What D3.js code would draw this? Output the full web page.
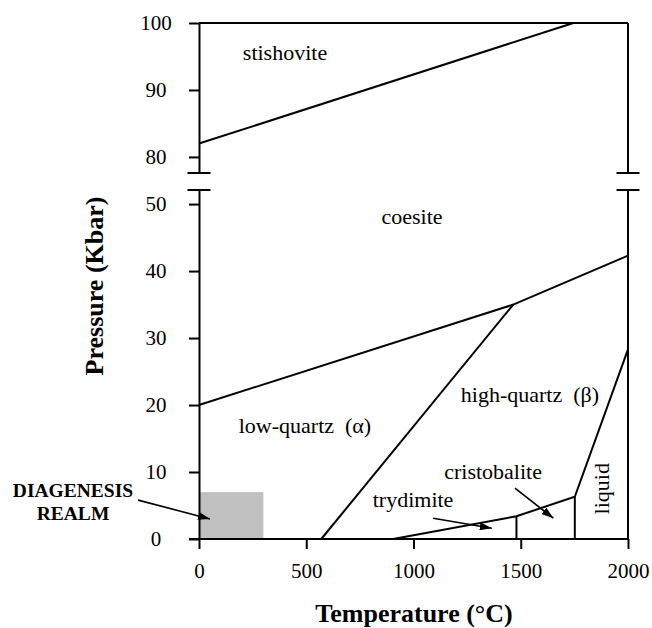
<!DOCTYPE html>
<html>
<head>
<meta charset="utf-8">
<script src="https://cdn.jsdelivr.net/npm/d3@7"></script>
<style>
  body { margin: 0; background: #fff; }
  svg text { font-family: "Liberation Serif", "Times New Roman", serif; fill: #000; }
  .axis path, .axis line { stroke: #000; stroke-width: 2; }
  .axis text { font-size: 21px; }
</style>
</head>
<body>
<div class="chart"></div>
<script>
var svgWidth = 652;
var svgHeight = 628;

// tick values for the two pressure panels and the temperature axis
var xTicks = [0, 500, 1000, 1500, 2000];
var yTicksLow = [0, 10, 20, 30, 40, 50];
var yTicksHigh = [80, 90, 100];

// phase boundaries, [temperature (°C), pressure (kbar)]
var stishoviteLine = [[0, 82], [1745, 100]];
var coesiteLine = [[0, 20], [1465, 35], [2000, 42.3]];
var alphaBetaLine = [[570, 0], [1465, 35]];
var meltLine = [[905, 0], [1480, 3.4], [1752, 6.3], [2000, 28.3]];
var trydCristLine = [[1480, 0], [1480, 3.4]];
var cristLiquidLine = [[1752, 0], [1752, 6.3]];

// diagenesis realm box: temperature and pressure extent
var diagenesisT = [0, 300];
var diagenesisP = [0, 7];

// field names, placed in data units
var lowLabels = [
  { name: "coesite", t: 993, p: 47.0 },
  { name: "low-quartz\u00a0\u00a0(\u03b1)", t: 494, p: 15.8 },
  { name: "high-quartz\u00a0\u00a0(\u03b2)", t: 1543, p: 20.5 },
  { name: "trydimite", t: 998, p: 4.8 },
  { name: "cristobalite", t: 1371, p: 8.9 }
];
var highLabels = [
  { name: "stishovite", t: 401, p: 94.5 }
];

// pointer arrows [from, to] in data units
var arrows = [
  [[1092, 3.1], [1365, 1.6]],
  [[1473, 7.6], [1652, 3.1]],
  [[-284, 5.8], [51, 3.0]]
];

var svg = d3.select(".chart")
  .append("svg")
  .attr("width", svgWidth)
  .attr("height", svgHeight);

var left = 199, right = 628;
var xScale = d3.scaleLinear().domain([0, 2000]).range([left, right]);
var yLow = d3.scaleLinear().domain([0, 52.1]).range([539, 190]);
var yHigh = d3.scaleLinear().domain([77.6, 100]).range([173, 23]);

svg.append("defs").append("marker")
  .attr("id", "head")
  .attr("viewBox", "0 0 12 8")
  .attr("refX", 12)
  .attr("refY", 4)
  .attr("markerWidth", 12)
  .attr("markerHeight", 8)
  .attr("markerUnits", "userSpaceOnUse")
  .attr("orient", "auto")
  .append("path")
  .attr("d", "M0,0L12,4L0,8z")
  .attr("fill", "#000");

// diagenesis box
svg.append("rect")
  .attr("x", xScale(diagenesisT[0]))
  .attr("y", yLow(diagenesisP[1]))
  .attr("width", xScale(diagenesisT[1]) - xScale(diagenesisT[0]))
  .attr("height", yLow(diagenesisP[0]) - yLow(diagenesisP[1]))
  .attr("fill", "#c0c0c0");

var lineLow = d3.line()
  .x(function(d) { return xScale(d[0]); })
  .y(function(d) { return yLow(d[1]); });
var lineHigh = d3.line()
  .x(function(d) { return xScale(d[0]); })
  .y(function(d) { return yHigh(d[1]); });

[coesiteLine, alphaBetaLine, meltLine, trydCristLine, cristLiquidLine].forEach(function(l) {
  svg.append("path")
    .attr("d", lineLow(l))
    .attr("fill", "none")
    .attr("stroke", "#000")
    .attr("stroke-width", 2);
});
svg.append("path")
  .attr("d", lineHigh(stishoviteLine))
  .attr("fill", "none")
  .attr("stroke", "#000")
  .attr("stroke-width", 2);

// axes
var bottomAxis = d3.axisBottom(xScale).tickValues(xTicks).tickFormat(d3.format("d"))
  .tickSize(10).tickSizeOuter(0);
var leftLow = d3.axisLeft(yLow).tickValues(yTicksLow).tickSize(10).tickSizeOuter(0);
var leftHigh = d3.axisLeft(yHigh).tickValues(yTicksHigh).tickSize(10).tickSizeOuter(0);

var gx = svg.append("g").attr("class", "axis")
  .attr("transform", "translate(0,539)")
  .call(bottomAxis);
gx.selectAll("text").attr("y", 39).attr("dy", 0);
gx.select(".domain").attr("d", "M" + (left - 10) + ",0H" + right);

[leftLow, leftHigh].forEach(function(ax) {
  var g = svg.append("g").attr("class", "axis")
    .attr("transform", "translate(" + left + ",0)")
    .call(ax);
  g.selectAll("text").attr("x", -43).attr("text-anchor", "middle");
});

// frame: top edge, right edge and break marks
svg.append("line").attr("x1", left).attr("x2", right).attr("y1", 23).attr("y2", 23)
  .attr("stroke", "#000").attr("stroke-width", 2);
[[23, 173], [190, 539]].forEach(function(s) {
  svg.append("line").attr("x1", right).attr("x2", right).attr("y1", s[0]).attr("y2", s[1])
    .attr("stroke", "#000").attr("stroke-width", 2);
});
[left, right].forEach(function(xp) {
  [173, 190].forEach(function(yp) {
    svg.append("line").attr("x1", xp - 11.5).attr("x2", xp + 11.5).attr("y1", yp).attr("y2", yp)
      .attr("stroke", "#000").attr("stroke-width", 2);
  });
});

// field labels
svg.selectAll(".lowlab").data(lowLabels).enter().append("text")
  .attr("x", function(d) { return xScale(d.t); })
  .attr("y", function(d) { return yLow(d.p); })
  .attr("text-anchor", "middle")
  .style("font-size", "22px")
  .text(function(d) { return d.name; });
svg.selectAll(".highlab").data(highLabels).enter().append("text")
  .attr("x", function(d) { return xScale(d.t); })
  .attr("y", function(d) { return yHigh(d.p); })
  .attr("text-anchor", "middle")
  .style("font-size", "22px")
  .text(function(d) { return d.name; });

svg.append("text")
  .attr("transform", "translate(" + xScale(1911) + "," + yLow(7.5) + ") rotate(-90)")
  .attr("text-anchor", "middle")
  .style("font-size", "22px")
  .text("liquid");

// arrows
arrows.forEach(function(a) {
  svg.append("line")
    .attr("x1", xScale(a[0][0])).attr("y1", yLow(a[0][1]))
    .attr("x2", xScale(a[1][0])).attr("y2", yLow(a[1][1]))
    .attr("stroke", "#000").attr("stroke-width", 1.6)
    .attr("marker-end", "url(#head)");
});

// diagenesis note
svg.append("text").attr("x", 73).attr("y", 497).attr("text-anchor", "middle")
  .style("font-size", "19.5px").style("font-weight", "bold").text("DIAGENESIS");
svg.append("text").attr("x", 73).attr("y", 520).attr("text-anchor", "middle")
  .style("font-size", "19.5px").style("font-weight", "bold").text("REALM");

// axis titles
svg.append("text")
  .attr("x", 414).attr("y", 622)
  .attr("text-anchor", "middle")
  .style("font-size", "26px").style("font-weight", "bold")
  .text("Temperature (°C)");
svg.append("text")
  .attr("transform", "translate(103,286) rotate(-90)")
  .attr("text-anchor", "middle")
  .style("font-size", "26px").style("font-weight", "bold")
  .text("Pressure (Kbar)");
</script>
</body>
</html>
